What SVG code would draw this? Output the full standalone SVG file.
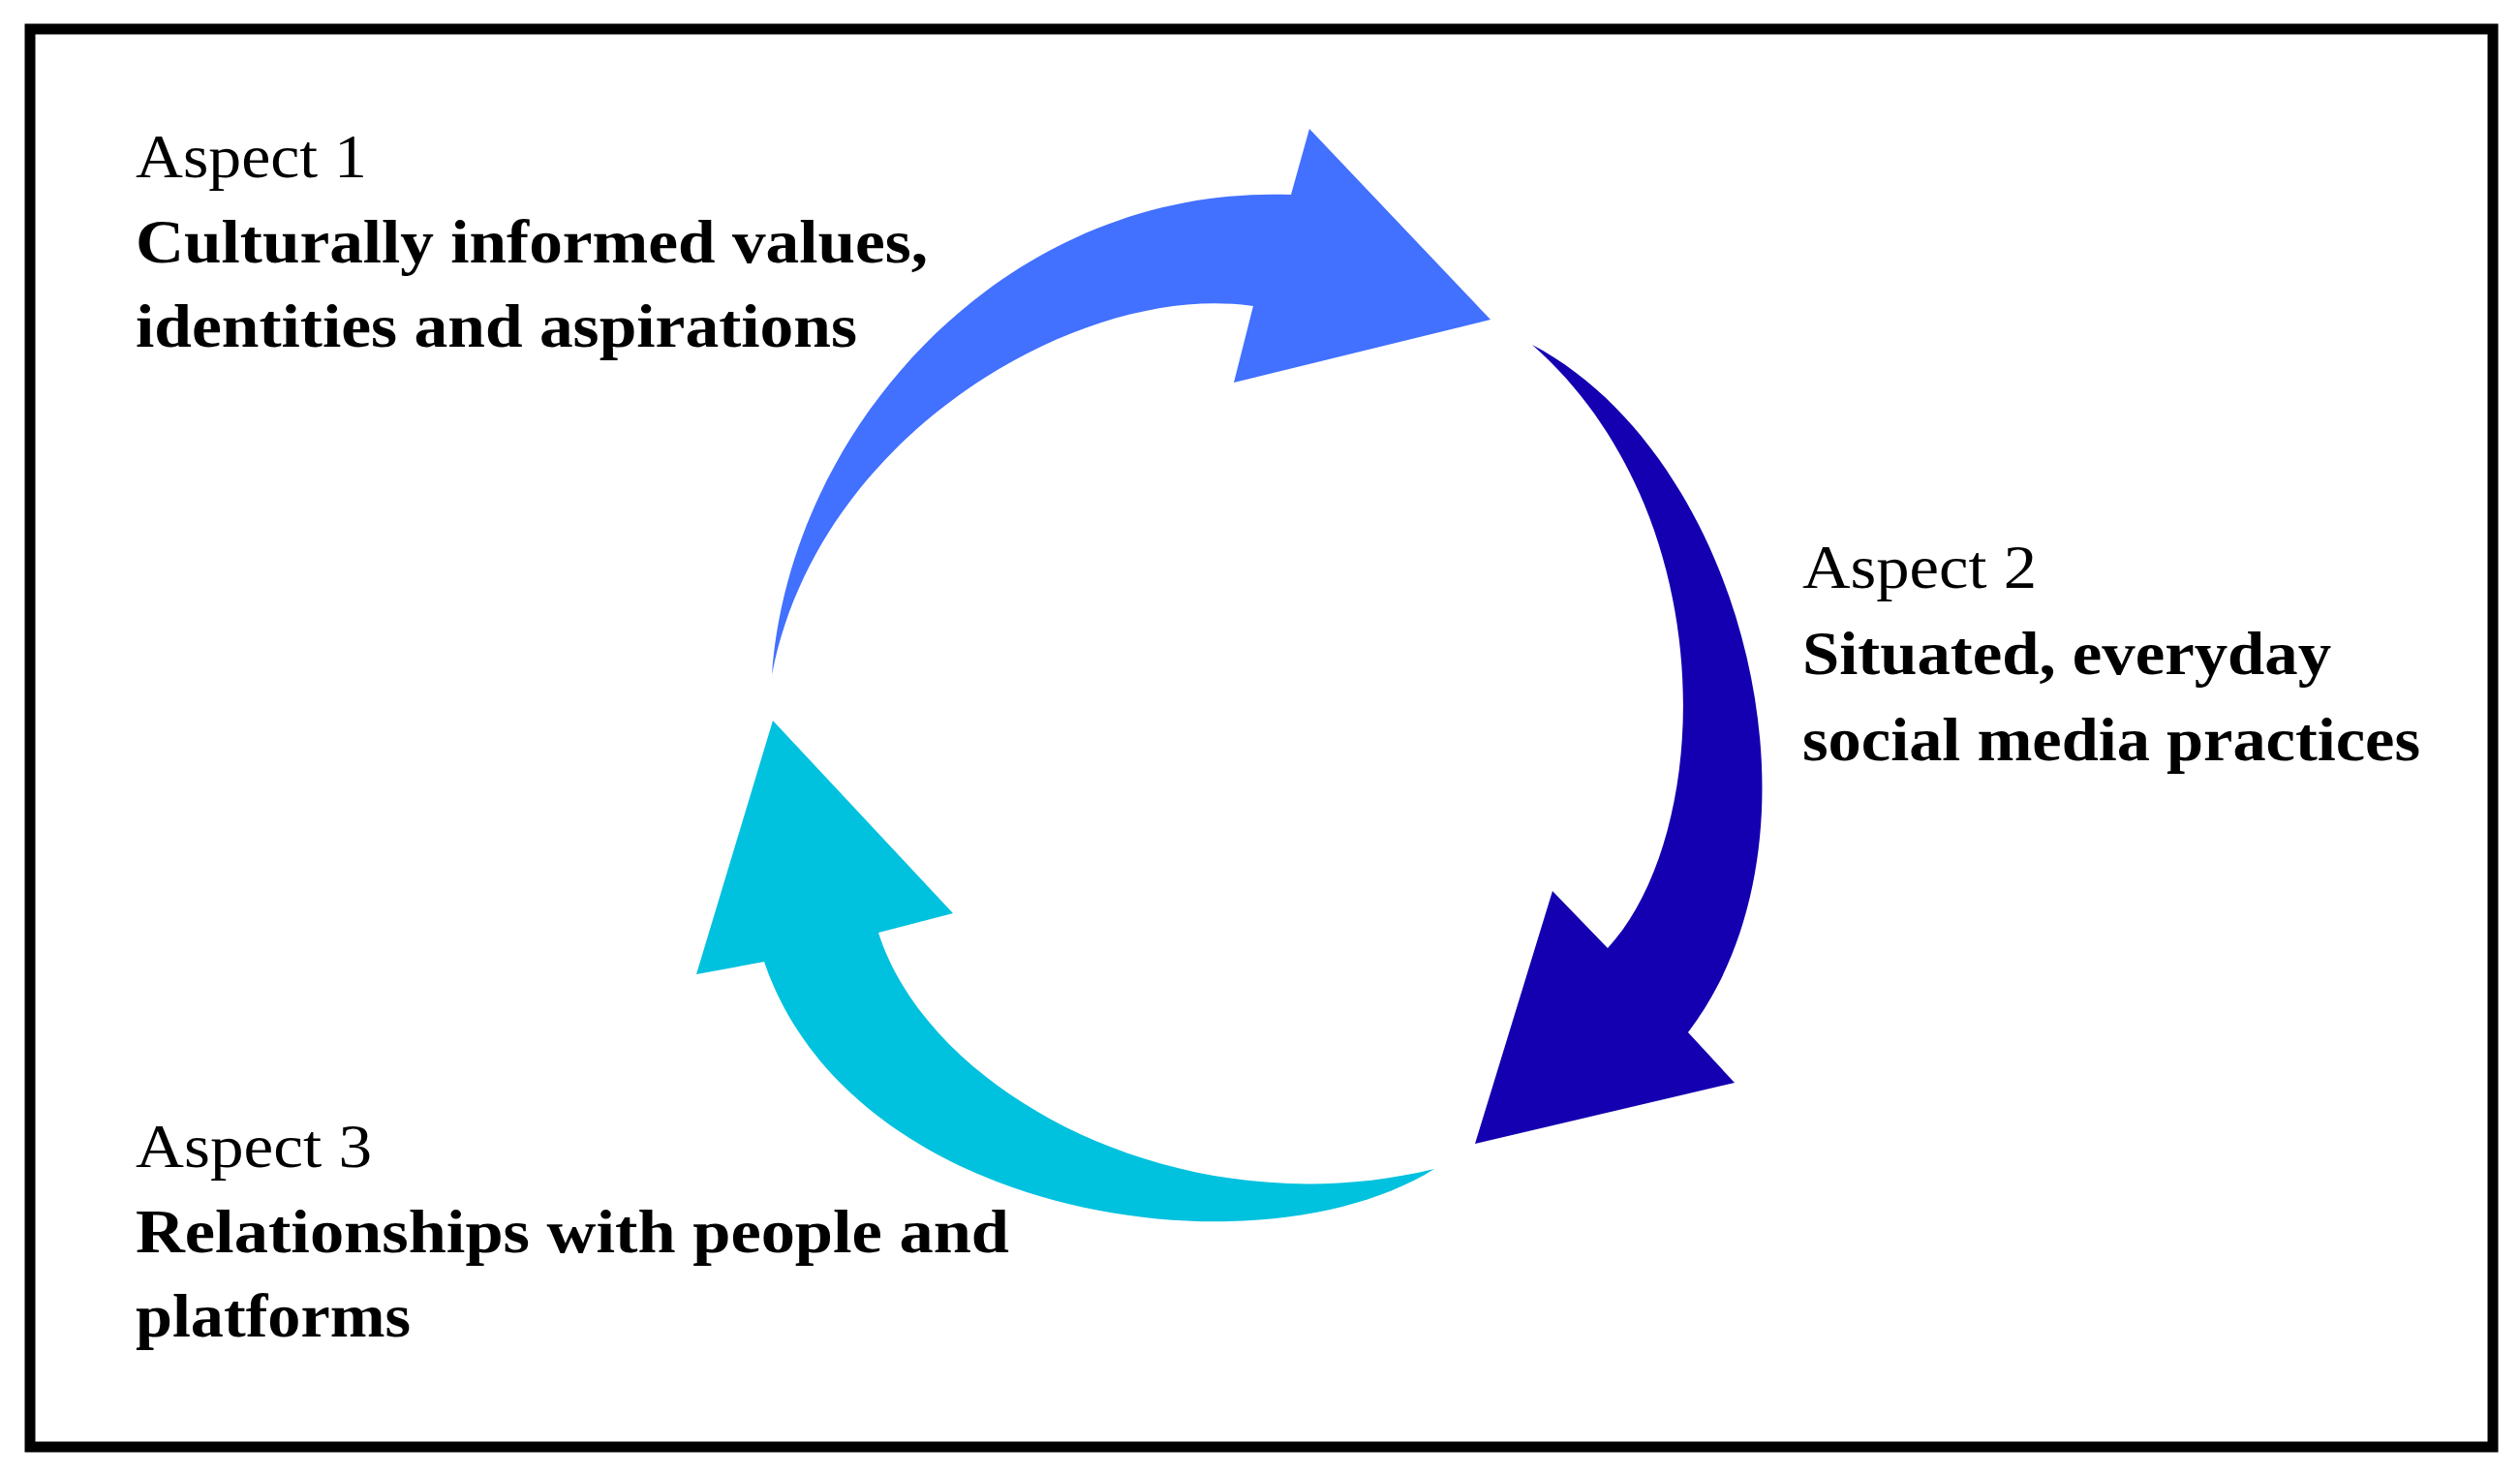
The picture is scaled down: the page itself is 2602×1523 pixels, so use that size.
<svg xmlns="http://www.w3.org/2000/svg" width="2602" height="1523" viewBox="0 0 2602 1523">
<style>
  .lbl { font-family: "Liberation Serif", "Times New Roman", serif; font-size: 64px; fill: #000; }
  .b { font-weight: bold; }
</style>
<rect x="0" y="0" width="2602" height="1523" fill="#fff"/>
<rect id="frame" x="31" y="30" width="2543" height="1464" fill="none" stroke="#000" stroke-width="11"/>
<g id="connectors">
  <path id="arrow1" fill="#4270FF" d="M797,697 C815,440 1040,190 1333,201 L1352,133 L1539,330 L1274,395 L1294,316 C1120,290 845,445 797,697 Z"/>
  <path id="arrow2" fill="#1400B0" d="M1582,356 C1800,470 1900,860 1743,1066 L1791,1118 L1523,1181 L1603,920 L1660,979 C1770,860 1780,530 1582,356 Z"/>
  <path id="arrow3" fill="#00C1DE" d="M1481,1207 C1300,1320 880,1260 789,993 L719,1006 L798,744 L984,943 L907,963 C960,1130 1220,1270 1481,1207 Z"/>
</g>
<g id="aspect1">
  <text class="lbl" x="140" y="183" textLength="239" lengthAdjust="spacingAndGlyphs">Aspect 1</text>
  <text class="lbl b" x="140" y="271" textLength="818" lengthAdjust="spacingAndGlyphs">Culturally informed values,</text>
  <text class="lbl b" x="140" y="358" textLength="745" lengthAdjust="spacingAndGlyphs">identities and aspirations</text>
</g>
<g id="aspect2">
  <text class="lbl" x="1861" y="607" textLength="242" lengthAdjust="spacingAndGlyphs">Aspect 2</text>
  <text class="lbl b" x="1861" y="696" textLength="546" lengthAdjust="spacingAndGlyphs">Situated, everyday</text>
  <text class="lbl b" x="1861" y="785" textLength="638" lengthAdjust="spacingAndGlyphs">social media practices</text>
</g>
<g id="aspect3">
  <text class="lbl" x="140" y="1205" textLength="244" lengthAdjust="spacingAndGlyphs">Aspect 3</text>
  <text class="lbl b" x="140" y="1293" textLength="902" lengthAdjust="spacingAndGlyphs">Relationships with people and</text>
  <text class="lbl b" x="140" y="1380" textLength="284" lengthAdjust="spacingAndGlyphs">platforms</text>
</g>
</svg>
